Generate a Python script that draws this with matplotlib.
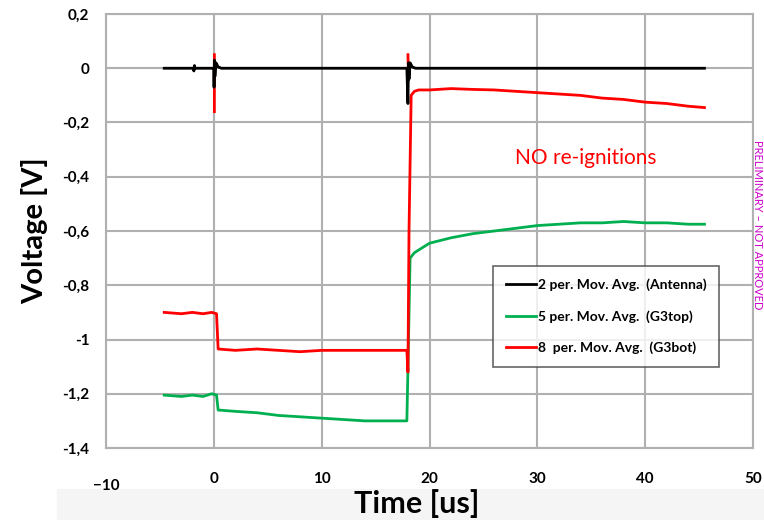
import matplotlib.pyplot as plt
import matplotlib.transforms as mtransforms
import numpy as np

nan = np.nan

## data ##

# Antenna (black): flat zero with ringing at -1.8, 0 and 18 us
x_antenna = [-4.6, -1.9, -1.85, -1.8, -1.75, 0.0, 0.02, 0.05, 0.1, 0.2, 0.4, 0.7,
             17.9, 18.0, 18.05, 18.1, 18.2, 18.4, 18.7, 45.5]
y_antenna = [0.0, 0.0, -0.01, 0.01, 0.0, 0.0, -0.07, 0.03, -0.03, 0.02, 0.005, 0.0,
             0.0, -0.13, 0.02, -0.04, 0.02, 0.005, 0.0, 0.0]

# G3bot (red): 8 per. moving average
x_g3bot = [-4.6, -3, -2, -1, -0.2, 0.25, 0.4, 2, 4, 6, 8, 10, 12, 14, 16, 17.9, 18.0,
           18.1, 18.3, 18.6, 19, 20, 22, 24, 26, 28, 30, 32, 34, 36, 38, 40, 42, 44, 45.5,
           nan, 0.05, 0.05, nan, 18.0, 18.05]
y_g3bot = [-0.90, -0.905, -0.90, -0.905, -0.90, -0.905, -1.035, -1.04, -1.035, -1.04,
           -1.045, -1.04, -1.04, -1.04, -1.04, -1.04, -1.12,
           -0.60, -0.10, -0.085, -0.08, -0.08, -0.075, -0.078, -0.08, -0.085, -0.09,
           -0.095, -0.10, -0.11, -0.115, -0.125, -0.13, -0.14, -0.145,
           nan, 0.05, -0.16, nan, 0.05, -0.025]

# G3top (green): 5 per. moving average
x_g3top = [-4.6, -3, -2, -1, -0.2, 0.25, 0.4, 2, 4, 6, 8, 10, 12, 14, 16, 17.9, 18.0,
           18.2, 18.6, 19, 20, 22, 24, 26, 28, 30, 32, 34, 36, 38, 40, 42, 44, 45.5]
y_g3top = [-1.205, -1.21, -1.205, -1.21, -1.20, -1.205, -1.26, -1.265, -1.27, -1.28,
           -1.285, -1.29, -1.295, -1.30, -1.30, -1.30, -1.11,
           -0.70, -0.68, -0.67, -0.645, -0.625, -0.61, -0.60, -0.59, -0.58, -0.575,
           -0.57, -0.57, -0.565, -0.57, -0.57, -0.575, -0.575]

series_labels = ["2 per. Mov. Avg.  (Antenna)", "5 per. Mov. Avg.  (G3top)",
                 "8  per. Mov. Avg.  (G3bot)"]

x_ticks = [-10, 0, 10, 20, 30, 40, 50]
y_ticks = [-1.4, -1.2, -1.0, -0.8, -0.6, -0.4, -0.2, 0.0, 0.2]
y_tick_labels = ["-1,4", "-1,2", "-1", "-0,8", "-0,6", "-0,4", "-0,2", "0", "0,2"]

## plot ##

plt.rcParams['font.family'] = ['Lato', 'DejaVu Sans']

fig = plt.figure(figsize=(7.64, 5.2), dpi=100)
# light grey band under the chart (screenshot background)
band = plt.Rectangle((0.075, 0.0), 0.925, 0.06, transform=fig.transFigure,
                     color='#f5f5f5', zorder=-10)
fig.add_artist(band)
axis = fig.add_axes([106 / 764, 72 / 520, 647 / 764, 434 / 520])

axis.plot(x_antenna, y_antenna, color='black', lw=2.0, label=series_labels[0], zorder=4)
axis.plot(x_g3top, y_g3top, color='#00b050', lw=2.0, label=series_labels[1], zorder=3)
axis.plot(x_g3bot, y_g3bot, color='#ff0000', lw=2.0, label=series_labels[2], zorder=3)

axis.set_xlim(-10, 50)
axis.set_ylim(-1.4, 0.2)
axis.set_xticks(x_ticks)
axis.set_yticks(y_ticks)
axis.set_yticklabels(y_tick_labels)
axis.tick_params(length=0, labelsize=11, pad=12)
axis.tick_params(axis='x', pad=17)
for lab in axis.get_xticklabels() + axis.get_yticklabels():
    lab.set_fontweight('bold')
# Excel put the -10 a bit lower than the rest
first = axis.get_xticklabels()[0]
first.set_transform(first.get_transform() +
                    mtransforms.ScaledTranslation(0, -5 / 72, fig.dpi_scale_trans))

axis.grid(True, color='#b0b0b0', lw=1.5)
axis.set_axisbelow(True)
for s in axis.spines.values():
    s.set_color('#b0b0b0')
    s.set_linewidth(1.5)

fig.text(0.545, 0.032, "Time [us]", fontsize=22, fontweight='bold',
         ha='center', va='center')
axis.set_ylabel("Voltage [V]", fontsize=21, fontweight='bold', labelpad=10)

axis.text(34.5, -0.33, "NO re-ignitions", color='#ff0000', fontsize=15,
          ha='center', va='center')

leg = axis.legend(loc='upper left', bbox_to_anchor=(0.588, 0.435), frameon=True,
                  fancybox=False, edgecolor='#404040', handlelength=2.2,
                  handletextpad=0.1, labelspacing=1.35, borderpad=0.9,
                  prop={'size': 10, 'weight': 'bold'})
leg.get_frame().set_linewidth(1.2)

fig.text(0.991, 0.567, "PRELIMINARY \u2013 NOT APPROVED", color='#cc00cc', fontsize=8,
         rotation=270, ha='center', va='center')

fig.savefig("out.png", dpi=100)
